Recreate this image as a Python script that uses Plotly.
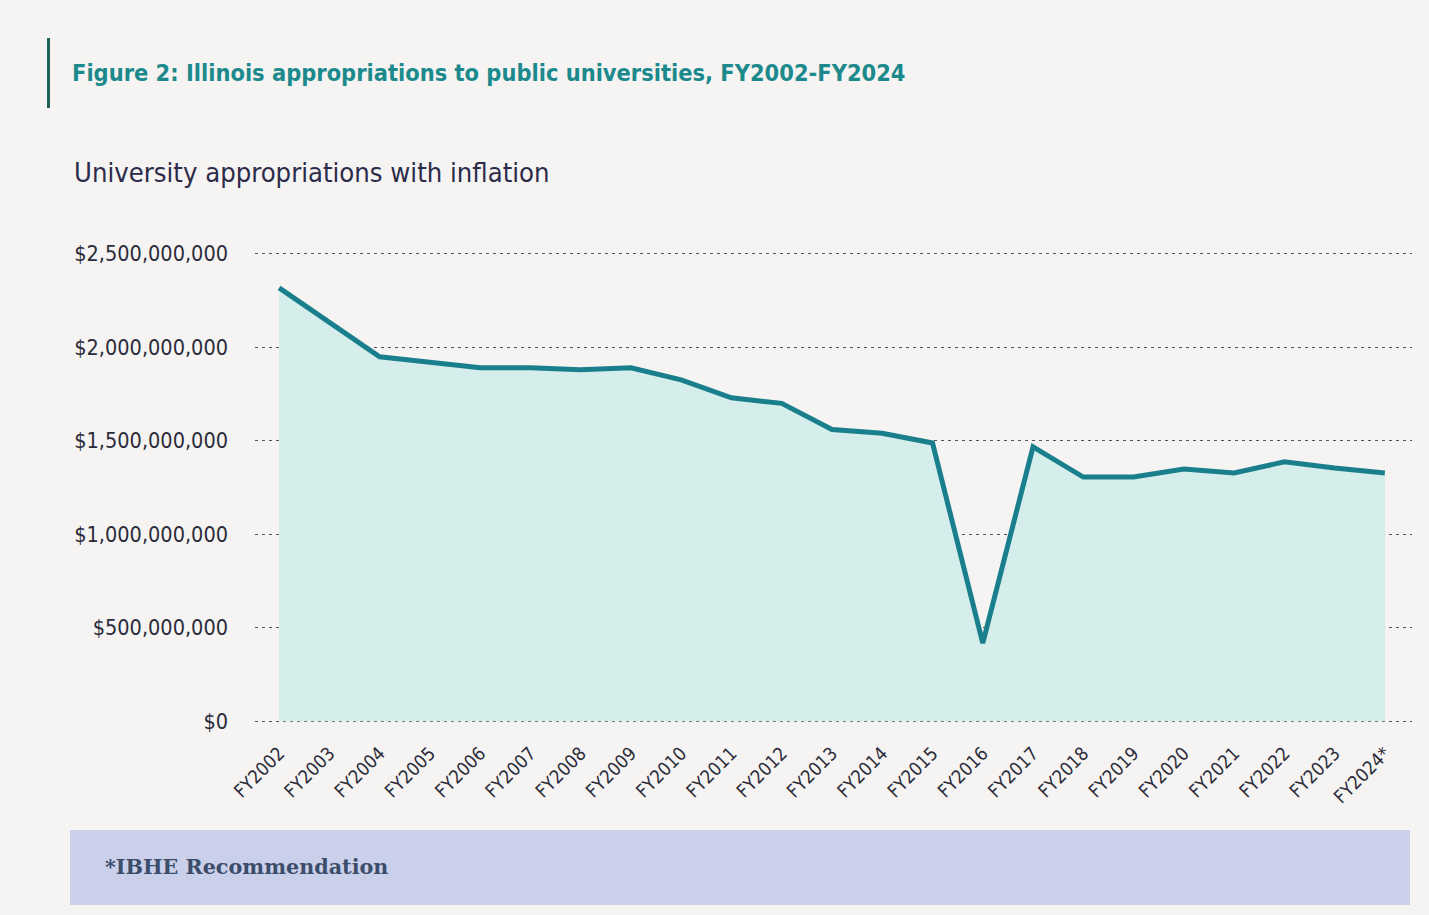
import plotly.graph_objects as go

years = ["FY2002", "FY2003", "FY2004", "FY2005", "FY2006", "FY2007", "FY2008", "FY2009",
         "FY2010", "FY2011", "FY2012", "FY2013", "FY2014", "FY2015", "FY2016", "FY2017",
         "FY2018", "FY2019", "FY2020", "FY2021", "FY2022", "FY2023", "FY2024*"]
appropriations = [2318e6, 2136e6, 1949e6, 1920e6, 1890e6, 1890e6, 1880e6, 1890e6,
                  1826e6, 1730e6, 1700e6, 1560e6, 1540e6, 1488e6, 418e6, 1467e6,
                  1306e6, 1306e6, 1349e6, 1328e6, 1387e6, 1354e6, 1328e6]
ytick_vals = [0, 500e6, 1000e6, 1500e6, 2000e6, 2500e6]
ytick_text = ["$0", "$500,000,000", "$1,000,000,000", "$1,500,000,000",
              "$2,000,000,000", "$2,500,000,000"]

W, H = 1429, 915
L, R, T, B = 255, 1412, 251, 724
pw, ph = R - L, B - T

def px(x):
    return (x - L) / pw

def py(y):
    return (B - y) / ph

FAM = "DejaVu Sans Condensed, DejaVu Sans, sans-serif"

fig = go.Figure()
fig.add_trace(go.Scatter(
    x=list(range(len(years))), y=appropriations, mode="lines",
    line=dict(color="#1a7f8c", width=5),
    fill="tozeroy", fillcolor="#d5eeeb",
    hoverinfo="skip", showlegend=False,
))

fig.update_layout(
    width=W, height=H,
    margin=dict(l=L, r=W - R, t=T, b=H - B),
    paper_bgcolor="#f5f4f2", plot_bgcolor="rgba(0,0,0,0)",
    title=dict(text="<b>Figure 2: Illinois appropriations to public universities, FY2002-FY2024</b>",
               x=72 / W, xanchor="left", xref="container",
               y=1 - 73 / H, yanchor="middle", yref="container",
               font=dict(family=FAM, size=23.4, color="#1c8a8c")),
    xaxis=dict(tickmode="array", tickvals=list(range(len(years))), ticktext=years,
               tickangle=-45, range=[-0.48, 22.54], showgrid=False, zeroline=False,
               showline=False, ticks="", ticklabelstandoff=14,
               tickfont=dict(family=FAM, size=18.5, color="#2b2b3a")),
    yaxis=dict(tickmode="array", tickvals=ytick_vals, ticktext=ytick_text,
               range=[-0.015e9, 2.515e9], showgrid=True, gridcolor="#555555",
               griddash="3px,4px", gridwidth=1, zeroline=False, showline=False,
               ticks="", ticklabelstandoff=26,
               tickfont=dict(family=FAM, size=21.5, color="#2b2b3a")),
    shapes=[
        dict(type="rect", xref="paper", yref="paper",
             x0=px(70), x1=px(1410), y0=py(905), y1=py(830),
             fillcolor="#cbd0ea", line=dict(width=0), layer="below"),
        dict(type="rect", xref="paper", yref="paper",
             x0=px(47), x1=px(50), y0=py(108), y1=py(38),
             fillcolor="#1f6157", line=dict(width=0)),
    ],
    annotations=[
        dict(text="University appropriations with inflation", xref="paper", yref="paper",
             x=px(72), y=py(172), xanchor="left", yanchor="middle", showarrow=False,
             font=dict(family=FAM, size=27.2, color="#2d2b4a")),
        dict(text="<b>*IBHE Recommendation</b>", xref="paper", yref="paper",
             x=px(103), y=py(867), xanchor="left", yanchor="middle", showarrow=False,
             font=dict(family="DejaVu Serif, serif", size=20.7, color="#3b4d6b")),
    ],
)

fig.write_html("out.html", config={"displayModeBar": False},
               post_script="document.body.style.margin='0';")
